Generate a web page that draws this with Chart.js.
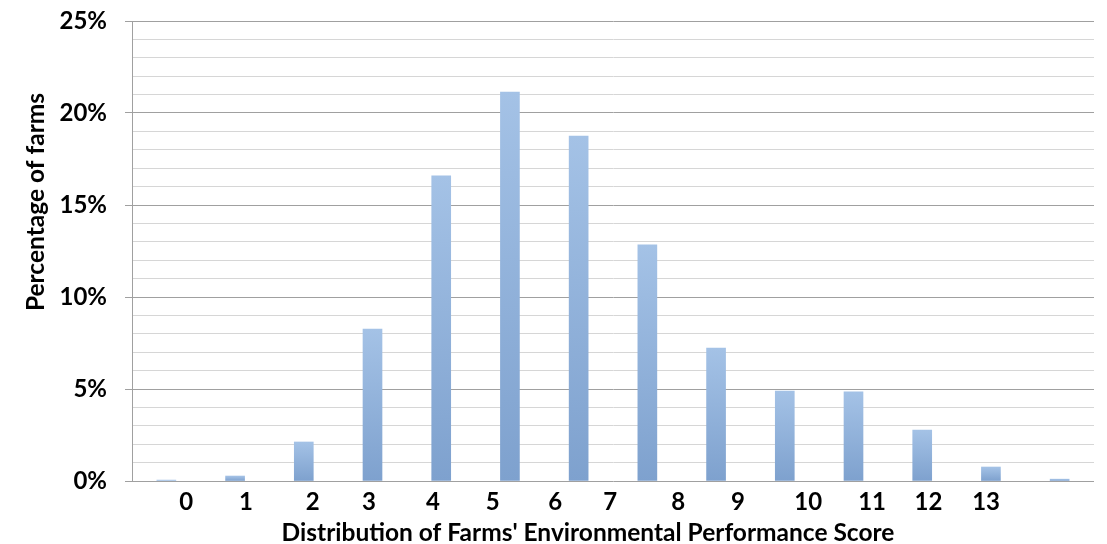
<!DOCTYPE html>
<html><head><meta charset="utf-8">
<script src="https://cdn.jsdelivr.net/npm/chart.js@4.4.1/dist/chart.umd.min.js"></script>
<style>html,body{margin:0;padding:0;background:#fff;}#wrap{width:1107px;height:544px;position:relative;}</style>
</head><body><div id="wrap"><canvas id="c"></canvas></div>
<script>
// ---- data ----
const categories = ['0','1','2','3','4','5','6','7','8','9','10','11','12','13'];
const percentages = [0.05, 0.27, 2.12, 8.26, 16.58, 21.14, 18.75, 12.83, 7.23, 4.89, 4.84, 2.77, 0.76, 0.10];
const tickLabels = ['0','1','2','3','4','5','6','7','8','9','10','11','12','13'];
const yTicks = [0, 5, 10, 15, 20, 25];
const xTitle = "Distribution of Farms' Environmental Performance Score";
const yTitle = 'Percentage of farms';
// layout: where each tick label sits along the axis (in category units, 0..14)
const tickLabelPos = [0.79, 1.66, 2.63, 3.45, 4.38, 5.25, 6.16, 6.96, 7.95, 8.82, 9.84, 10.77, 11.59, 12.43];

const FONT = 'Lato';
const barTop = '#a4c2e6', barBottom = '#7ea1ce';

function barFill(ctx) {
  const chart = ctx.chart;
  const sc = chart.scales && chart.scales.y;
  if (!chart.chartArea || !sc) return '#92b2da';
  const v = ctx.raw;
  const yT = sc.getPixelForValue(v), yB = sc.getPixelForValue(0);
  if (!isFinite(yT) || yB - yT < 1) return barTop;
  const g = chart.ctx.createLinearGradient(0, yT, 0, yB);
  g.addColorStop(0, barTop);
  g.addColorStop(1, barBottom);
  return g;
}

const titlesPlugin = {
  id: 'titles',
  afterDraw(chart) {
    const c = chart.ctx;
    c.save();
    c.fillStyle = '#000';
    c.font = 'bold 24.5px ' + FONT;
    c.textAlign = 'center';
    c.textBaseline = 'alphabetic';
    c.fillText(xTitle, 588, 541);
    c.translate(44, 202);
    c.rotate(-Math.PI / 2);
    c.fillText(yTitle, 0, 0);
    c.restore();
  }
};

new Chart(document.getElementById('c'), {
  type: 'bar',
  data: {
    labels: categories,
    datasets: [{
      data: percentages,
      backgroundColor: barFill,
      borderWidth: 0,
      barThickness: 19
    }]
  },
  options: {
    responsive: true,
    maintainAspectRatio: false,
    animation: false,
    events: [],
    layout: { padding: { top: 21, right: 13, left: 0, bottom: 0 } },
    plugins: { legend: { display: false }, tooltip: { enabled: false } },
    scales: {
      x: { display: false, offset: true },
      xl: {
        type: 'linear', position: 'bottom', min: 0, max: 14, offset: false,
        grid: { display: false, drawTicks: false, offset: false }, border: { display: false },
        afterBuildTicks: (s) => { s.ticks = tickLabelPos.map(v => ({ value: v })); },
        afterFit: (s) => { s.height = 63; s.paddingLeft = 0; s.paddingRight = 0; },
        ticks: {
          autoSkip: false, maxRotation: 0, padding: 7,
          color: '#000', font: { family: FONT, size: 24, weight: 'bold' },
          callback: (v, i) => tickLabels[i]
        }
      },
      y: {
        min: 0, max: 25,
        afterBuildTicks: (s) => { const t = []; for (let v = 0; v <= 25; v++) t.push({ value: v }); s.ticks = t; },
        afterFit: (s) => { s.width = 132; s.paddingTop = 0; s.paddingBottom = 0; },
        border: { display: true, color: '#a0a0a0', width: 1 },
        grid: {
          color: (c) => (yTicks.includes(c.tick.value) ? '#a0a0a0' : '#d6d6d6'),
          tickColor: (c) => (yTicks.includes(c.tick.value) ? '#a0a0a0' : 'rgba(0,0,0,0)'),
          tickLength: 7, lineWidth: 1
        },
        ticks: {
          autoSkip: false, padding: 18, color: '#000',
          font: { family: FONT, size: 24, weight: 'bold' },
          callback: (v) => (yTicks.includes(v) ? v + '%' : '')
        }
      }
    }
  },
  plugins: [titlesPlugin]
});
</script></body></html>
